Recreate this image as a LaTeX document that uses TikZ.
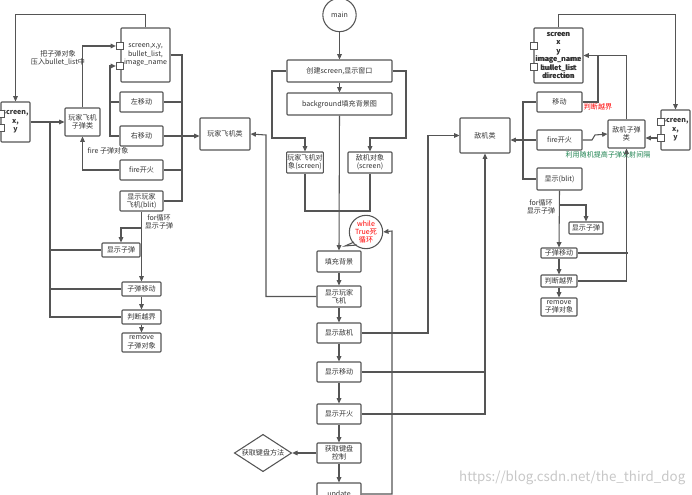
\documentclass[tikz,border=0pt]{standalone}
\usepackage{fontspec}
\setmainfont{Noto Sans CJK SC}
\usetikzlibrary{arrows.meta,shapes.geometric}
\definecolor{lc}{HTML}{555555}
\definecolor{tc}{HTML}{333333}
\newcommand\ft{\fontsize{5.3}{6.3}\selectfont}
\newcommand\bx[6]{\node[b,minimum width={(#4-#2)*0.75pt},minimum height={(#5-#3)*0.75pt}] (#1) at ({(#2+#4)/2},{(#3+#5)/2}) {#6};}
\tikzset{
 b/.style={draw=lc,line width=0.8pt,fill=white,rounded corners=0.6pt,align=center,inner sep=0.5pt,font=\ft,text=tc},
 at/.style={b,font=\ft\bfseries},
 sq/.style={draw=lc,line width=0.7pt,fill=white,minimum size=5.5pt,inner sep=0pt},
 arr/.style={-{Triangle[length=4pt,width=3.5pt]},draw=lc,line width=0.8pt},
 ln/.style={draw=lc,line width=0.8pt},
 lb/.style={font=\ft,text=tc,align=center,inner sep=0.5pt}
}
\begin{document}
\begin{tikzpicture}[x=0.75pt,y=-0.75pt]
\useasboundingbox (0,0) rectangle (692,495);
% ---- left
\bx{A1}{121}{28}{170}{82}{screen,x,y,\\bullet\_list,\\image\_name}
\node[sq] (s1) at (120,46) {};
\node[sq] (s2) at (120,66) {};
\bx{LS}{1}{102}{30}{142}{\textbf{screen,}\\\textbf{x,}\\\textbf{y}}
\node[sq] (s5) at (1,114) {};
\node[sq] (s6) at (1,128) {};
\bx{PB}{65}{108}{100}{136}{玩家飞机\\子弹类}
\bx{L}{120}{92}{163}{112}{左移动}
\bx{R}{120}{126}{163}{146}{右移动}
\bx{F}{120}{160}{163}{180}{fire开火}
\bx{D}{120}{191}{163}{211}{显示玩家\\飞机(blit)}
\bx{SB}{102}{243}{140}{257}{显示子弹}
\bx{M}{122}{282}{161}{296}{子弹移动}
\bx{J}{122}{310}{161}{324}{判断越界}
\bx{RM}{122}{333}{161}{352}{remove\\子弹对象}
\bx{PC}{200}{118}{250}{150}{玩家飞机类}
\draw[arr] (A1.north) -- ++(0,-13) -| (LS.north);
\draw[arr] (LS.east) -- (PB.west);
\draw[arr] (PB.north) |- (s1.west);
\node[lb] at (58,58) {把子弹对象\\压入bullet\_list中};
\draw[arr] (L.west) -- (110,102) |- (s2.west);
\draw[ln] (R.west) -- (110,136) -- (110,102);
\draw[arr] (F.west) -| (PB.south);
\node[lb] at (108,151) {fire 子弹对象};
\draw[ln] (A1.east) -- (182,55) -- (182,201) -- (D.east);
\draw[ln] (L.east) -- (182,102);
\draw[ln] (F.east) -- (182,170);
\draw[arr] (R.east) -- (PC.west |- R.east);
\draw[arr] (D.south) -- (M.north);
\node[lb] at (159,222) {for循环\\显示子弹};
\draw[arr] (141.5,228) -| (SB.north);
\draw[ln] (J.west) -| (50,122);
\draw[ln] (SB.west) -- (50,250);
\draw[ln] (M.west) -- (50,289);
\draw[arr] (M) -- (J);
\draw[arr] (J) -- (RM);
% ---- middle
\node[draw=lc,line width=0.8pt,circle,minimum size=25pt,font=\ft,text=tc,inner sep=0] (main) at (339.5,15) {main};
\bx{C}{287}{60}{392}{82}{创建screen,显示窗口}
\bx{BG}{287}{93}{392}{115}{background填充背景图}
\bx{PO}{287}{152}{323}{173}{玩家飞机对\\象(screen)}
\bx{EO}{348}{152}{392}{173}{敌机对象\\(screen)}
\bx{FB}{317}{251}{361}{272}{填充背景}
\bx{SP}{317}{286}{361}{307}{显示玩家\\飞机}
\bx{SE}{317}{323}{361}{343}{显示敌机}
\bx{SM}{317}{362}{361}{382}{显示移动}
\bx{SF}{317}{404}{361}{424}{显示开火}
\bx{KB}{317}{443}{361}{463}{获取键盘\\控制}
\bx{UP}{317}{483}{361}{505}{update}
\node[draw=lc,line width=0.8pt,diamond,aspect=1.6,minimum width=43pt,minimum height=28pt,inner sep=0,font=\ft,text=tc] (KM) at (263,453) {获取键盘方法};
\node[draw=lc,line width=0.8pt,circle,minimum size=25pt,inner sep=0,align=center,font=\ft,text=red] (WH) at (366,232) {while\\True死\\循环};
\draw[ln] (354,242) -- (345,246) -- (357,245);
\draw[arr] (main) -- (C);
\draw[arr] (C) -- (BG);
\draw[arr] (C.west) -- (272,71) |- (305,138) -- (PO.north);
\draw[arr] (C.east) -- (406,71) |- (370,138) -- (EO.north);
\draw[arr] (BG.south) -- (FB.north);
\draw[ln] (PO.south) |- (339,211);
\draw[ln] (EO.south) |- (339,211);
\draw[arr] (FB) -- (SP);
\draw[arr] (SP) -- (SE);
\draw[arr] (SE) -- (SM);
\draw[arr] (SM) -- (SF);
\draw[arr] (SF) -- (KB);
\draw[arr] (KB) -- (UP);
\draw[arr] (KB.west) -- (KM.east);
\draw[arr] (SP.west) -| (266,135) -- (PC.east);
\draw[arr] (UP.east) -| (392,231) -- (WH.east);
% ---- right
\bx{EC}{460}{118}{510}{153}{敌机类}
\bx{A2}{534}{28}{583}{83}{screen\\x\\y\\image\_name\\bullet\_list\\direction}
\node[font=\ft\bfseries,text=tc,align=center] at (558.5,55.5) {screen\\x\\y\\image\_name\\bullet\_list\\direction};
\node[sq] (s3) at (534,46) {};
\node[sq] (s4) at (534,67) {};
\bx{EM}{537}{92}{582}{112}{移动}
\bx{EF}{537}{130}{582}{150}{fire开火}
\bx{ED}{537}{168}{582}{190}{显示(blit)}
\bx{EB}{608}{120}{645}{148}{敌机子弹\\类}
\bx{RS}{661}{110}{690}{150}{\textbf{screen,}\\\textbf{x,}\\\textbf{y}}
\node[sq] (s7) at (661,122) {};
\node[sq] (s8) at (661,138) {};
\bx{ESB}{569}{222}{603}{234}{显示子弹}
\bx{EMV}{541}{248}{577}{258}{子弹移动}
\bx{EJ}{541}{275}{577}{287}{判断越界}
\bx{ER}{541}{298}{577}{316}{remove\\子弹对象}
\draw[arr] (A2.north) -- ++(0,-13) -| (RS.north);
\draw[ln] (EM.east) -| (598,56);
\draw[arr] (EB.north) |- (A2.east);
\node[lb,text=red] at (598,107) {判断越界};
\draw[arr] (EF.east) -- (592,140) -- (595,135) -- (EB.west);
\node[lb,text={rgb,255:red,30;green,130;blue,80}] at (608,155) {利用随机提高子弹发射间隔};
\draw[arr] (s8.west) -- (EB.east |- s8.west);
\draw[ln] (EM.west) -| (523,179) -- (ED.west);
\draw[arr] (EF.west) -- (EC.east |- EF.west);
\draw[arr] (ED.south) -- (EMV.north);
\node[lb] at (541,207) {for循环\\显示子弹};
\draw[arr] (559,205) -| (ESB.north);
\draw[arr] (EJ.east) -| (EB.south);
\draw[ln] (EMV.east) -- (628,253);
\draw[arr] (EMV) -- (EJ);
\draw[arr] (EJ) -- (ER);
\draw[arr] (SE.east) -- (428,333) |- (EC.west);
\draw[ln] (SM.east) -- (485,372);
\draw[arr] (SF.east) -| (EC.south -| 485,0);
\node[font=\fontsize{10}{12}\selectfont,text=black!22,anchor=east] at (690,478) {https://blog.csdn.net/the\_third\_dog};
\end{tikzpicture}
\end{document}
